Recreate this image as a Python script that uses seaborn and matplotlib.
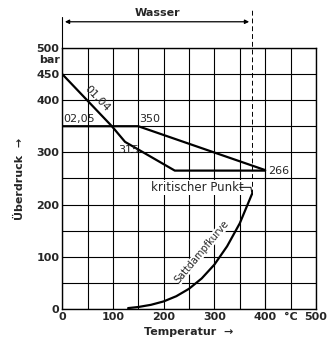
import numpy as np
import pandas as pd
import matplotlib.pyplot as plt
import seaborn as sns

# lines (temperature in °C, gauge pressure in bar)
upper_temp = [0, 150, 400]
upper_pres = [350, 350, 266]
lower_temp = [0, 98, 124, 222, 400]
lower_pres = [450, 350, 320, 265, 265]
limit_temp = [400, 400]
limit_pres = [266, 0]
sat_temp = [130, 150, 175, 200, 225, 250, 275, 300, 325, 350, 374]
sat_pres = [1.7, 3.8, 8, 14.5, 24.5, 38.7, 58.5, 85, 120, 164, 220]
crit_temp, crit_pres = 374, 220

xticks = [0, 100, 200, 300, 400, 500]
yticks = [0, 100, 200, 300, 400, 450, 500]

sns.set_style("white")
plt.rcParams['font.family'] = ['Liberation Sans Narrow', 'DejaVu Sans']

fig = plt.figure(figsize=(3.27, 3.42), dpi=100)
ax = fig.add_axes([0.19, 0.0965, 0.776, 0.7635])

for t, p, lw in [(upper_temp, upper_pres, 1.6), (lower_temp, lower_pres, 1.6),
                 (limit_temp, limit_pres, 1.8), (sat_temp, sat_pres, 1.6)]:
    df = pd.DataFrame({'T': t, 'p': p})
    sns.lineplot(data=df, x='T', y='p', sort=False, color='black', lw=lw, ax=ax, zorder=3)

ax.set_xlim(0, 500)
ax.set_ylim(0, 500)
ax.set_xticks(np.arange(0, 501, 50))
ax.set_yticks(np.arange(0, 501, 50))
ax.grid(True, color='black', lw=0.8)
ax.set_xticklabels([str(v) if v in xticks else ('°C' if v == 450 else '') for v in range(0, 501, 50)],
                   fontsize=8, fontweight='bold')
ax.set_yticklabels([str(v) if v in yticks else '' for v in range(0, 501, 50)],
                   fontsize=8, fontweight='bold')
ax.tick_params(length=0, pad=2)
for s in ax.spines.values():
    s.set_color('black')
    s.set_linewidth(1.0)

ax.text(-4, 476, 'bar', ha='right', va='center', fontsize=8, fontweight='bold')
ax.set_xlabel('Temperatur  →', fontsize=8, fontweight='bold', labelpad=4)
ax.set_ylabel('Überdruck  →', fontsize=8, fontweight='bold', labelpad=8)

# labels on the curves
ax.text(68, 402, '01,04', rotation=-46, fontsize=8, ha='center', va='center')
ax.text(3, 364, '02,05', fontsize=8, ha='left', va='center')
ax.text(152, 364, '350', fontsize=8, ha='left', va='center')
ax.text(110, 304, '315', fontsize=8, ha='left', va='center')
ax.text(405, 265, '266', fontsize=8, ha='left', va='center')
ax.text(175, 233, 'kritischer Punkt', fontsize=8.5, ha='left', va='center',
        bbox=dict(facecolor='white', edgecolor='none', pad=0.5), zorder=2)
ax.plot([350, 372, 374], [233, 233, crit_pres], color='black', lw=0.7)
ax.text(276, 110, 'Sattdampfkurve', rotation=50, fontsize=7, ha='center', va='center',
        bbox=dict(facecolor='white', edgecolor='none', pad=0.1), zorder=2)

# critical isotherm and "Wasser" range above the plot
ax.plot([crit_temp, crit_temp], [crit_pres, 575], color='black', lw=0.7,
        ls=(0, (5, 3)), clip_on=False)
ax.plot([0, 0], [500, 560], color='black', lw=0.8, clip_on=False)
ax.annotate('', xy=(0, 550), xytext=(crit_temp, 550), xycoords='data',
            arrowprops=dict(arrowstyle='<|-|>', color='black', lw=0.9,
                            mutation_scale=6), annotation_clip=False)
ax.text(crit_temp / 2, 566, 'Wasser', fontsize=8, fontweight='bold',
        ha='center', va='center', clip_on=False)

fig.savefig('out.png', dpi=100)
